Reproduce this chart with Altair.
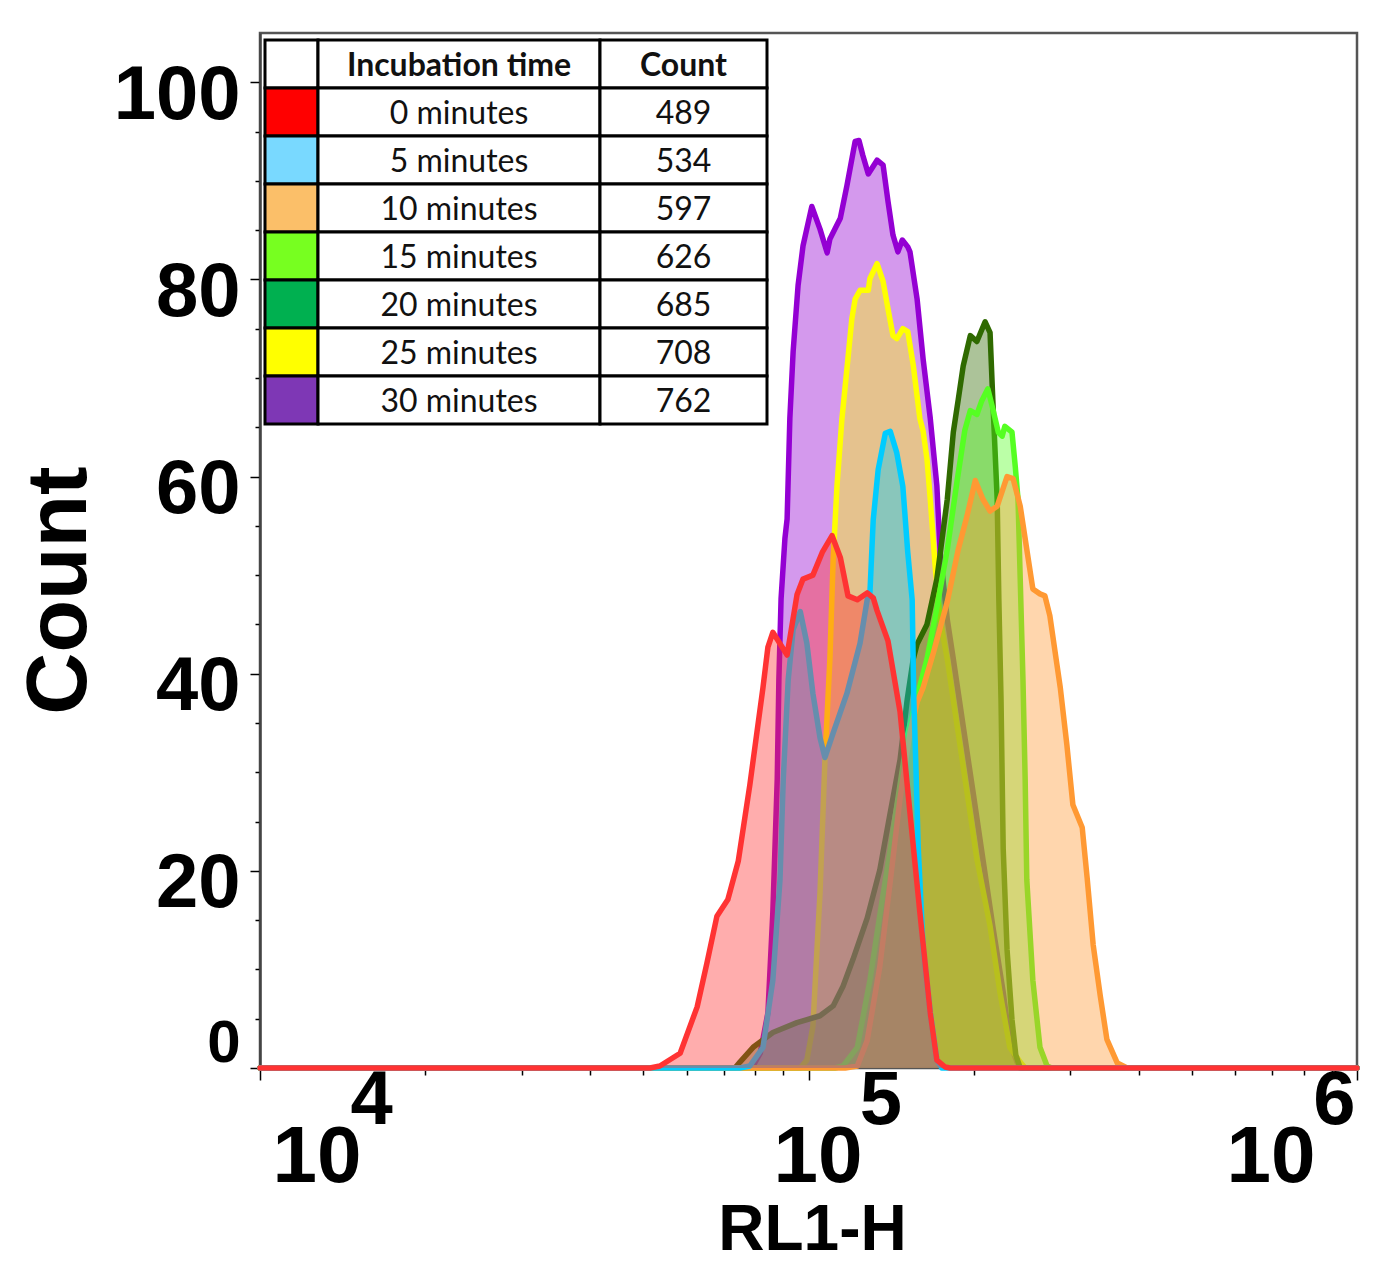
import altair as alt
import pandas as pd

# ---------------- data ----------------
SERIES = ["0 minutes", "5 minutes", "10 minutes", "15 minutes",
          "20 minutes", "25 minutes", "30 minutes"]
EVENT_COUNTS = [489, 534, 597, 626, 685, 708, 762]
SWATCH_COLORS = ["#FF0000", "#79D9FF", "#FBBF69", "#77FF20",
                 "#00B050", "#FFFF00", "#7E37B5"]
LINE_COLORS = ["#FF3333", "#00CCFF", "#FF9933", "#55FF22",
               "#2F6A00", "#FFFF00", "#9400D3"]

# histogram outlines: log10(RL1-H) and count
LOG_0 = [4.711, 4.729, 4.766, 4.797, 4.815, 4.833, 4.853, 4.872, 4.893, 4.917, 4.926, 4.935,
         4.961, 4.979, 4.990, 5.008, 5.025, 5.043, 5.058, 5.072, 5.089, 5.107, 5.118, 5.125,
         5.145, 5.167, 5.185, 5.203, 5.222, 5.234, 5.249, 5.258]
CNT_0 = [0, 0.2, 1.5, 6.2, 10.7, 15.4, 17.1, 21.0, 28.7, 38.6, 42.7, 44.2,
         41.9, 48.0, 49.6, 50.0, 52.3, 54.0, 51.8, 47.9, 47.5, 48.2, 47.7, 46.4,
         43.3, 36.1, 25.9, 15.8, 5.6, 0.8, 0.1, 0]

LOG_5 = [4.875, 4.893, 4.917, 4.935, 4.948, 4.954, 4.963, 4.972, 4.985, 4.997, 5.008, 5.021,
         5.030, 5.045, 5.070, 5.094, 5.107, 5.112, 5.118, 5.127, 5.140, 5.149, 5.161, 5.172,
         5.181, 5.189, 5.192, 5.196, 5.200, 5.209, 5.222, 5.234, 5.243]
CNT_5 = [0, 0.2, 2.1, 8.9, 19.1, 29.3, 39.4, 44.5, 46.3, 43.1, 38.0, 33.5,
         31.5, 34.0, 38.0, 43.1, 47.5, 48.2, 55.6, 60.7, 64.4, 64.6, 62.4, 59.0,
         52.3, 47.5, 37.4, 30.3, 22.4, 12.2, 5.6, 0.8, 0]

LOG_10 = [5.067, 5.089, 5.107, 5.130, 5.149, 5.167, 5.185, 5.198, 5.209, 5.227, 5.253, 5.273,
          5.289, 5.304, 5.318, 5.331, 5.344, 5.362, 5.373, 5.386, 5.398, 5.409, 5.422, 5.431,
          5.440, 5.453, 5.459, 5.471, 5.482, 5.499, 5.508, 5.519, 5.532, 5.544, 5.563, 5.581]
CNT_10 = [0, 0.2, 2.8, 10.3, 18.9, 27.4, 34.0, 37.1, 38.6, 42.0, 47.3, 52.6,
          56.0, 59.6, 57.7, 56.5, 57.0, 60.0, 59.8, 57.0, 52.6, 48.6, 48.1, 47.9,
          45.9, 40.9, 38.6, 32.8, 26.7, 24.4, 19.3, 12.5, 7.3, 2.9, 0.5, 0]

LOG_15 = [5.048, 5.063, 5.089, 5.112, 5.130, 5.149, 5.167, 5.181, 5.198, 5.216, 5.234, 5.253,
          5.271, 5.285, 5.295, 5.307, 5.316, 5.327, 5.336, 5.346, 5.353, 5.358, 5.371, 5.377,
          5.382, 5.386, 5.391, 5.395, 5.398, 5.409, 5.422, 5.435, 5.444]
CNT_15 = [0, 0.2, 2.1, 8.9, 15.5, 22.2, 28.8, 33.9, 37.7, 41.5, 46.7, 52.6,
          59.6, 64.7, 66.7, 66.3, 67.7, 68.9, 66.9, 64.5, 64.1, 65.1, 64.5, 61.0,
          57.7, 49.6, 39.4, 29.3, 19.1, 8.9, 2.1, 0.2, 0]

LOG_20 = [4.866, 4.875, 4.899, 4.935, 4.979, 5.021, 5.045, 5.063, 5.081, 5.107, 5.130, 5.149,
          5.167, 5.180, 5.191, 5.198, 5.216, 5.234, 5.253, 5.264, 5.273, 5.282, 5.295, 5.307,
          5.322, 5.331, 5.336, 5.344, 5.347, 5.351, 5.355, 5.362, 5.371, 5.378, 5.386]
CNT_20 = [0, 0.6, 2.1, 3.6, 4.6, 5.3, 6.3, 8.3, 11.0, 15.2, 20.1, 25.9,
          31.3, 37.4, 41.5, 43.0, 45.0, 49.6, 57.7, 64.5, 67.8, 71.2, 74.3, 73.7,
          75.7, 74.6, 67.8, 57.7, 47.6, 37.4, 22.2, 12.0, 4.9, 1.3, 0]

LOG_25 = [4.985, 4.997, 5.008, 5.021, 5.030, 5.039, 5.045, 5.052, 5.061, 5.070, 5.079, 5.085,
          5.094, 5.109, 5.112, 5.125, 5.136, 5.145, 5.154, 5.161, 5.172, 5.181, 5.191, 5.203,
          5.209, 5.216, 5.222, 5.231, 5.240, 5.253, 5.271, 5.289, 5.307, 5.331, 5.349, 5.367,
          5.386, 5.395]
CNT_25 = [0, 0.8, 4.2, 17.8, 31.3, 41.5, 51.7, 59.1, 65.9, 70.9, 76.0, 78.0,
          78.9, 78.9, 80.1, 81.6, 79.8, 77.0, 74.3, 74.0, 75.0, 74.7, 71.3, 65.9,
          64.6, 61.8, 57.7, 50.9, 45.5, 41.5, 34.7, 28.0, 21.2, 14.4, 7.7, 2.1,
          0.6, 0]

LOG_30 = [4.884, 4.899, 4.912, 4.926, 4.935, 4.943, 4.946, 4.950, 4.957, 4.961, 4.966, 4.972,
          4.981, 4.990, 5.006, 5.021, 5.034, 5.039, 5.058, 5.070, 5.085, 5.092, 5.099, 5.109,
          5.125, 5.136, 5.145, 5.154, 5.163, 5.171, 5.181, 5.185, 5.198, 5.209, 5.222, 5.234,
          5.240, 5.253, 5.264, 5.282, 5.300, 5.318, 5.336, 5.355, 5.367, 5.380, 5.389]
CNT_30 = [0, 0.2, 1.5, 5.6, 15.8, 29.3, 39.4, 47.6, 53.7, 55.7, 65.9, 72.7,
          79.4, 83.4, 87.4, 85.1, 82.7, 84.1, 86.2, 89.5, 94.0, 94.1, 92.6, 90.7,
          92.1, 91.6, 87.9, 84.5, 82.8, 84.0, 83.3, 82.8, 78.0, 71.9, 65.9, 59.1,
          52.3, 45.5, 41.5, 34.7, 28.0, 21.2, 14.4, 7.7, 2.6, 0.6, 0]

LOGS = [LOG_0, LOG_5, LOG_10, LOG_15, LOG_20, LOG_25, LOG_30]
CNTS = [CNT_0, CNT_5, CNT_10, CNT_15, CNT_20, CNT_25, CNT_30]
DRAW_ORDER = [6, 5, 4, 3, 2, 1, 0]

X_TICKS = [10000, 20000, 30000, 40000, 50000, 60000, 70000, 80000, 90000,
           100000, 200000, 300000, 400000, 500000, 600000, 700000, 800000, 900000,
           1000000]
X_MAJOR = [10000, 100000, 1000000]
Y_TICKS = [0, 5, 10, 15, 20, 25, 30, 35, 40, 45, 50, 55, 60, 65, 70, 75, 80, 85, 90, 95, 100]

# ---------------- layout ----------------
W, H = 1097, 1035
ARIAL = "Liberation Sans, Arial, sans-serif"
TABLE_FONT = "Lato, Open Sans, sans-serif"

rows = []
for name, logs, cnts in zip(SERIES, LOGS, CNTS):
    pts = [(4.0, 0.0)] + list(zip(logs, cnts)) + [(6.0, 0.0)]
    for i, (lg, c) in enumerate(pts):
        rows.append({"series": name, "idx": i, "rl1h": 10 ** lg, "count": c})
hist_df = pd.DataFrame(rows)

MAJOR_TEST = "abs(log(datum.value)/LN10 - round(log(datum.value)/LN10)) < 0.001"
x_scale = alt.Scale(type="log", domain=[10000, 1000000], nice=False)

x_axis = alt.Axis(
    orient="bottom", values=X_TICKS,
    labelExpr=f"({MAJOR_TEST}) ? '10' : ''",
    tickSize={"condition": {"test": MAJOR_TEST, "value": 12}, "value": 7},
    tickColor="black", tickWidth=1.5, domain=False, grid=False,
    labelFont=ARIAL, labelFontWeight="bold", labelFontSize=80, labelColor="black",
    labelFlush=True, labelOverlap=False, labelBaseline="top", labelPadding=38,
    labelOffset={"condition": [{"test": "datum.value <= 10000", "value": 12},
                               {"test": "datum.value >= 1000000", "value": -42}],
                 "value": 9},
    title="RL1-H", titleFont=ARIAL, titleFontWeight="bold", titleFontSize=64,
    titleColor="black", titleX=552, titleY=162, titleBaseline="middle", titleAlign="center",
)
y_axis = alt.Axis(
    values=Y_TICKS, labelExpr="datum.value % 20 === 0 ? datum.label : ''",
    tickSize={"condition": {"test": "datum.value % 20 === 0", "value": 10}, "value": 5},
    tickColor="black", tickWidth=1.5, domainColor="#444", domainWidth=2.5, grid=False,
    labelFont=ARIAL, labelFontWeight="bold", labelColor="black",
    labelFontSize={"condition": {"test": "datum.value === 0", "value": 60}, "value": 76},
    labelOffset={"condition": {"test": "datum.value === 0", "value": -25}, "value": 13},
    labelPadding=10, labelFlush=False, labelOverlap=False,
    title="Count", titleFont=ARIAL, titleFontWeight="bold", titleFontSize=86,
    titleColor="black", titleAngle=270, titleX=-201, titleY=557,
    titleBaseline="middle", titleAlign="center",
)

x_enc = alt.X("rl1h:Q", scale=x_scale, axis=x_axis)
y_enc = alt.Y("count:Q", scale=alt.Scale(domain=[0, 105], nice=False, zero=True),
              stack=None, axis=y_axis)

hist_layers = []
for k in DRAW_ORDER:
    base = alt.Chart(hist_df).transform_filter(alt.datum.series == SERIES[k]).encode(x=x_enc, y=y_enc)
    hist_layers.append(base.mark_area(color=LINE_COLORS[k], opacity=0.4))
    hist_layers.append(base.mark_line(color=LINE_COLORS[k], strokeWidth=5.5,
                                      strokeJoin="round", strokeCap="round").encode(order="idx:Q"))
hist = alt.layer(*hist_layers)

# exponent labels of the log axis
exp_df = pd.DataFrame({"rl1h": X_MAJOR})
exp_axis = alt.Axis(
    orient="bottom", values=X_MAJOR,
    labelExpr="format(round(log(datum.value)/LN10), 'd')",
    ticks=False, domain=False, grid=False,
    labelFont=ARIAL, labelFontWeight="bold", labelFontSize=76, labelColor="black",
    labelFlush=True, labelOverlap=False, labelBaseline="top", labelPadding=-5,
    labelOffset={"condition": [{"test": "datum.value <= 10000", "value": 90},
                               {"test": "datum.value >= 1000000", "value": -2}],
                 "value": 72},
    title=None,
)
exp_layer = alt.Chart(exp_df).mark_point(opacity=0).encode(
    x=alt.X("rl1h:Q", scale=x_scale, axis=exp_axis), y=alt.value(0))

# legend table
TABLE_X0, TABLE_Y0, ROW_H = 5, 7, 48
COL_W = [53, 282, 167]
col_edges = [TABLE_X0, TABLE_X0 + COL_W[0], TABLE_X0 + COL_W[0] + COL_W[1],
             TABLE_X0 + sum(COL_W)]
cells, texts = [], []
header = ["", "Incubation time", "Count"]
for r in range(len(SERIES) + 1):
    y0 = TABLE_Y0 + r * ROW_H
    for c in range(3):
        if r == 0:
            fill = "#FFFFFF"
            label = header[c]
        else:
            fill = SWATCH_COLORS[r - 1] if c == 0 else "#FFFFFF"
            label = ["", SERIES[r - 1], str(EVENT_COUNTS[r - 1])][c]
        cells.append({"x0": col_edges[c], "x1": col_edges[c + 1], "y0": y0, "y1": y0 + ROW_H,
                      "fill": fill})
        if label:
            texts.append({"xc": (col_edges[c] + col_edges[c + 1]) / 2, "yc": y0 + ROW_H / 2 + 2,
                          "label": label, "head": r == 0})
cells_df = pd.DataFrame(cells)
texts_df = pd.DataFrame(texts)

tx = alt.Scale(domain=[0, W], nice=False, zero=False)
ty = alt.Scale(domain=[0, H], nice=False, zero=False, reverse=True)
tbl_rect = alt.Chart(cells_df).mark_rect(stroke="black", strokeWidth=3).encode(
    x=alt.X("x0:Q", scale=tx, axis=None), x2="x1",
    y=alt.Y("y0:Q", scale=ty, axis=None), y2="y1",
    fill=alt.Fill("fill:N", scale=None))
tbl_head = alt.Chart(texts_df).transform_filter("datum.head").mark_text(
    font=TABLE_FONT, fontSize=32, fontWeight="bold", color="#111", align="center",
    baseline="middle").encode(
    x=alt.X("xc:Q", scale=tx, axis=None), y=alt.Y("yc:Q", scale=ty, axis=None), text="label:N")
tbl_body = alt.Chart(texts_df).transform_filter("!datum.head").mark_text(
    font=TABLE_FONT, fontSize=32, color="#111", align="center",
    baseline="middle").encode(
    x=alt.X("xc:Q", scale=tx, axis=None), y=alt.Y("yc:Q", scale=ty, axis=None), text="label:N")

chart = alt.layer(hist, exp_layer, tbl_rect, tbl_head, tbl_body).resolve_scale(
    x="independent", y="independent"
).properties(
    width=W, height=H,
    padding={"left": 260, "top": 33, "right": 24, "bottom": 195},
    autosize=alt.AutoSizeParams(type="none"),
    background="white",
).configure_view(stroke="#555", strokeWidth=2.5)

chart.save("out.html", embed_options={"renderer": "svg", "actions": False})
